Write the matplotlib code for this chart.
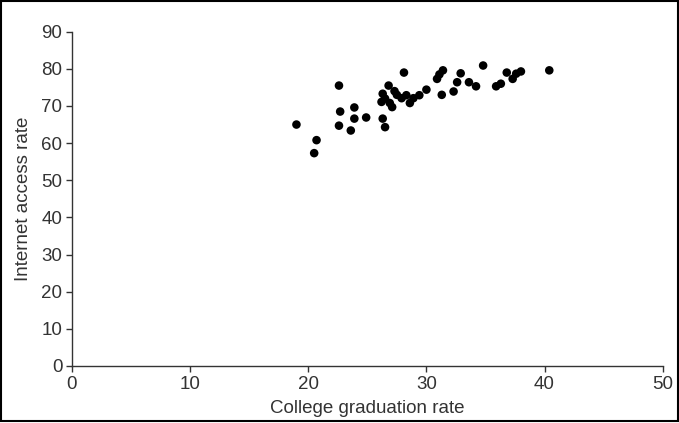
import matplotlib.pyplot as plt
from matplotlib.patches import Rectangle

plt.rcParams['font.family'] = ['Liberation Sans', 'DejaVu Sans']

# College graduation rate vs. internet access rate (per state)
grad_rate = [22.6, 19.0, 20.7, 20.5, 22.7, 22.6, 23.9, 23.9, 23.6, 24.9,
             28.1, 26.8, 26.3, 27.3, 27.5, 26.5, 26.2, 26.9, 27.1, 27.9,
             28.3, 28.6, 28.9, 29.4, 30.0, 26.3, 26.5, 31.3, 30.9, 31.1,
             31.4, 32.3, 32.6, 32.9, 33.6, 34.8, 34.2, 35.9, 36.3, 36.8,
             37.3, 37.6, 38.0, 40.4]
net_rate = [75.5, 65.0, 60.8, 57.3, 68.5, 64.7, 69.6, 66.6, 63.4, 66.9,
            79.0, 75.5, 73.3, 74.0, 73.0, 72.0, 71.1, 70.8, 69.7, 72.1,
            72.9, 70.8, 72.1, 72.9, 74.4, 66.6, 64.3, 73.0, 77.3, 78.5,
            79.6, 73.9, 76.4, 78.8, 76.4, 80.9, 75.3, 75.3, 76.0, 79.0,
            77.3, 78.7, 79.3, 79.6]

fig = plt.figure(figsize=(6.79, 4.23), dpi=100)
ax = fig.add_axes([0.106, 0.135, 0.870, 0.790])

ax.scatter(grad_rate, net_rate, s=38, color='black', edgecolors='none', zorder=3)

ax.set_xlim(0, 50)
ax.set_ylim(0, 90)
ax.set_xticks(range(0, 51, 10))
ax.set_yticks(range(0, 91, 10))
ax.spines['top'].set_visible(False)
ax.spines['right'].set_visible(False)
for side in ('left', 'bottom'):
    ax.spines[side].set_color('#333333')
    ax.spines[side].set_linewidth(1.0)
ax.tick_params(direction='out', length=4, width=1, color='#333333',
               labelsize=13.5, labelcolor='#333333', pad=3)
ax.set_xlabel('College graduation rate', fontsize=13.5, color='#333333', labelpad=5)
ax.set_ylabel('Internet access rate', fontsize=13.5, color='#333333', labelpad=7)

# thin frame around the whole figure
fig.patches.append(Rectangle((0.002, 0.004), 0.996, 0.994, transform=fig.transFigure,
                             fill=False, edgecolor='black', linewidth=1.5))

fig.savefig('out.png', dpi=100)
